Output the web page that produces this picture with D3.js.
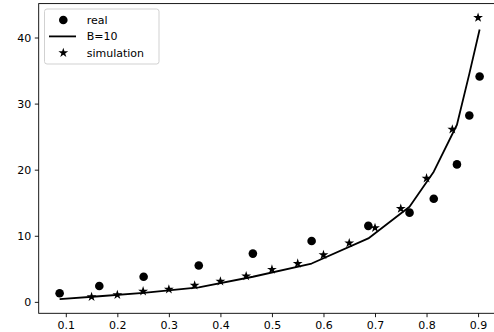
<!DOCTYPE html>
<html>
<head>
<meta charset="utf-8">
<script src="https://cdn.jsdelivr.net/npm/d3@7"></script>
<style>
  body { margin: 0; background: #fff; }
  svg { display: block; font-family: "DejaVu Sans", sans-serif; }
</style>
</head>
<body>
<svg id="chart" width="494" height="332"></svg>
<script>
// real measurements (dots)
const realX = [0.088, 0.165, 0.251, 0.358, 0.463, 0.577, 0.687, 0.767, 0.814, 0.859, 0.883, 0.903]
const realY = [1.3, 2.4, 3.8, 5.5, 7.3, 9.2, 11.5, 13.5, 15.6, 20.8, 28.2, 34.1]

// model curve B=10, evaluated at the real x values
const modelY = [0.4, 0.85, 1.35, 2.2, 3.8, 5.8, 9.6, 14.4, 19.7, 26.8, 34.5, 41.2]

// simulation (stars)
const simX = [0.15, 0.2, 0.25, 0.3, 0.35, 0.4, 0.45, 0.5, 0.55, 0.6, 0.65, 0.7, 0.75, 0.8, 0.85, 0.9]
const simY = [0.76, 1.06, 1.6, 1.9, 2.5, 3.1, 3.9, 4.9, 5.8, 7.1, 8.9, 11.2, 14.1, 18.7, 26.1, 43.0]

const xTicks = [0.1, 0.2, 0.3, 0.4, 0.5, 0.6, 0.7, 0.8, 0.9]
const yTicks = [0, 10, 20, 30, 40]
const legendLabels = ["real", "B=10", "simulation"]

const margin = {top: 3.6, left: 38.7, bottom: 313.3, right: 499}

const svg = d3.select("#chart")

const x = d3.scaleLinear()
    .domain([0.0474, 0.9406])
    .range([margin.left, margin.right])

const y = d3.scaleLinear()
    .domain([-1.73, 45.13])
    .range([margin.bottom, margin.top])

// axes
const xAxis = svg.append("g")
    .attr("transform", `translate(0,${margin.bottom})`)
    .call(d3.axisBottom(x).tickValues(xTicks).tickFormat(d3.format(".1f"))
      .tickSize(3.9).tickPadding(3.6).tickSizeOuter(0))

const yAxis = svg.append("g")
    .attr("transform", `translate(${margin.left},0)`)
    .call(d3.axisLeft(y).tickValues(yTicks).tickFormat(d3.format("d"))
      .tickSize(3.9).tickPadding(3.6).tickSizeOuter(0))

svg.selectAll(".domain").remove()
svg.selectAll(".tick line").attr("stroke", "#000").attr("stroke-width", 0.9)
svg.selectAll(".tick text")
    .attr("fill", "#000")
    .style("font-size", "11px")
    .style("font-family", "DejaVu Sans, sans-serif")

// frame (spines)
svg.append("rect")
    .attr("x", margin.left)
    .attr("y", margin.top)
    .attr("width", margin.right - margin.left)
    .attr("height", margin.bottom - margin.top)
    .attr("fill", "none")
    .attr("stroke", "#000")
    .attr("stroke-width", 0.9)

// model line
const line = d3.line()
    .x((d, i) => x(realX[i]))
    .y(d => y(d))

svg.append("path")
    .datum(modelY)
    .attr("fill", "none")
    .attr("stroke", "#000")
    .attr("stroke-width", 1.8)
    .attr("stroke-linejoin", "round")
    .attr("d", line)

// real dots
svg.append("g")
  .selectAll("circle")
  .data(realY)
  .join("circle")
    .attr("cx", (d, i) => x(realX[i]))
    .attr("cy", d => y(d))
    .attr("r", 4.3)
    .attr("fill", "#000")

// simulation stars
const star = d3.symbol().type(d3.symbolStar).size(30)
svg.append("g")
  .selectAll("path")
  .data(simY)
  .join("path")
    .attr("transform", (d, i) => `translate(${x(simX[i])},${y(d)})`)
    .attr("d", star)
    .attr("fill", "#000")

// legend
const legend = svg.append("g").attr("transform", "translate(44.5,9)")
legend.append("rect")
    .attr("width", 114.5)
    .attr("height", 55)
    .attr("rx", 2.5)
    .attr("fill", "#fff")
    .attr("fill-opacity", 0.8)
    .attr("stroke", "#ccc")
    .attr("stroke-width", 0.9)

const rows = legend.selectAll("g.row")
  .data(legendLabels)
  .join("g")
    .attr("class", "row")
    .attr("transform", (d, i) => `translate(0,${11 + i * 16.4})`)

rows.append("text")
    .attr("x", 42.2)
    .attr("dy", "0.35em")
    .style("font-size", "11px")
    .attr("fill", "#000")
    .text(d => d)

rows.filter((d, i) => i === 0).append("circle")
    .attr("cx", 18.8).attr("r", 4.3).attr("fill", "#000")
rows.filter((d, i) => i === 1).append("line")
    .attr("x1", 4.5).attr("x2", 31.5)
    .attr("stroke", "#000").attr("stroke-width", 1.8)
rows.filter((d, i) => i === 2).append("path")
    .attr("transform", "translate(18.8,0)")
    .attr("d", star).attr("fill", "#000")
</script>
</body>
</html>
